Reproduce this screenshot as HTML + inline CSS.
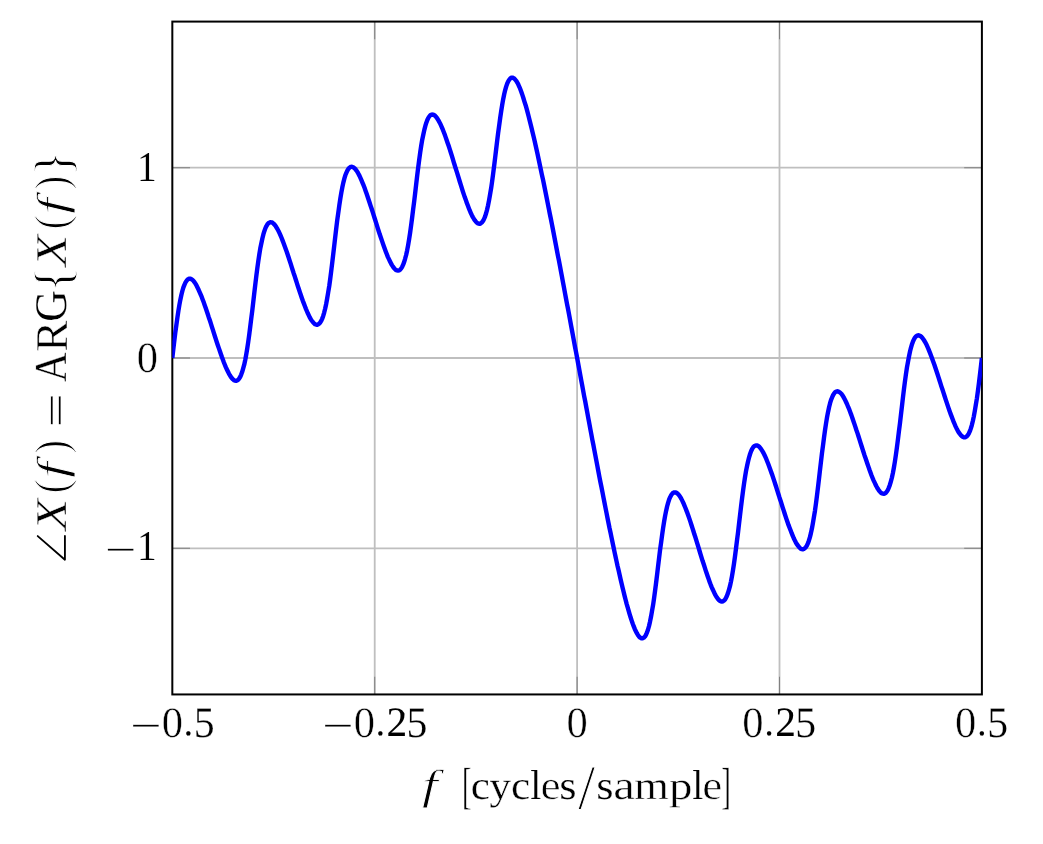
<!DOCTYPE html>
<html lang="en"><head><meta charset="utf-8"><title>Phase of X(f)</title>
<style>html,body{margin:0;padding:0;background:#fff;overflow:hidden}svg{display:block}text{font-family:"Liberation Serif",serif;fill:#000;white-space:pre;text-rendering:geometricPrecision;stroke:#fff;stroke-width:0;paint-order:fill stroke;stroke-linejoin:round}.t{will-change:transform}.i{font-style:italic}.k{stroke:#000}</style></head><body>
<svg width="1043" height="844" viewBox="0 0 1042.917 843.554" preserveAspectRatio="none">
<rect width="1043" height="844" fill="#fff"/>
<defs><clipPath id="ax"><rect x="172.312" y="21.576" width="809.505" height="672.497"/></clipPath></defs>
<path id="grid" d="M374.689 694.073V21.576 M577.065 694.073V21.576 M779.441 694.073V21.576 M172.312 548.046H981.818 M172.312 357.825H981.818 M172.312 167.604H981.818" fill="none" stroke="#bfbfbf" stroke-width="1.8"/>
<path id="ticks" d="M374.689 694.073v-17.717 M374.689 21.576v17.717 M577.065 694.073v-17.717 M577.065 21.576v17.717 M779.441 694.073v-17.717 M779.441 21.576v17.717 M172.312 548.046h17.717 M981.818 548.046h-17.717 M172.312 357.825h17.717 M981.818 357.825h-17.717 M172.312 167.604h17.717 M981.818 167.604h-17.717" fill="none" stroke="#808080" stroke-width="1"/>
<rect id="axes" x="172.312" y="21.576" width="809.505" height="672.497" fill="none" stroke="#000" stroke-width="2"/>
<g class="t">
<g id="xticklabels">
<text><tspan class="k" x="130.39" y="736.46" font-size="34.08" textLength="30.7" lengthAdjust="spacingAndGlyphs" stroke-width="0.08">−</tspan><tspan x="161.67" y="736.29" font-size="43.17" textLength="21.28" lengthAdjust="spacingAndGlyphs" stroke-width="0.46">0</tspan><tspan class="k" x="183.84" y="735" font-size="37.02" textLength="9.25" lengthAdjust="spacingAndGlyphs" stroke-width="0.08">.</tspan><tspan x="193.74" y="736.15" font-size="43.43" textLength="20.91" lengthAdjust="spacingAndGlyphs" stroke-width="0.19">5</tspan></text>
<text><tspan class="k" x="322.39" y="736.46" font-size="34.08" textLength="30.7" lengthAdjust="spacingAndGlyphs" stroke-width="0.08">−</tspan><tspan x="353.67" y="736.29" font-size="43.17" textLength="21.28" lengthAdjust="spacingAndGlyphs" stroke-width="0.46">0</tspan><tspan class="k" x="375.83" y="735" font-size="37.02" textLength="9.25" lengthAdjust="spacingAndGlyphs" stroke-width="0.08">.</tspan><tspan class="k" x="386.49" y="735.52" font-size="41.81" textLength="20.68" lengthAdjust="spacingAndGlyphs" stroke-width="0.08">2</tspan><tspan x="406.49" y="736.15" font-size="43.43" textLength="20.91" lengthAdjust="spacingAndGlyphs" stroke-width="0.19">5</tspan></text>
<text><tspan x="566.42" y="736.29" font-size="43.17" textLength="21.28" lengthAdjust="spacingAndGlyphs" stroke-width="0.46">0</tspan></text>
<text><tspan x="742.27" y="736.29" font-size="43.17" textLength="21.28" lengthAdjust="spacingAndGlyphs" stroke-width="0.46">0</tspan><tspan class="k" x="764.43" y="735" font-size="37.02" textLength="9.25" lengthAdjust="spacingAndGlyphs" stroke-width="0.08">.</tspan><tspan class="k" x="775.09" y="735.52" font-size="41.81" textLength="20.68" lengthAdjust="spacingAndGlyphs" stroke-width="0.08">2</tspan><tspan x="795.1" y="736.15" font-size="43.43" textLength="20.91" lengthAdjust="spacingAndGlyphs" stroke-width="0.19">5</tspan></text>
<text><tspan x="955.02" y="736.29" font-size="43.17" textLength="21.28" lengthAdjust="spacingAndGlyphs" stroke-width="0.46">0</tspan><tspan class="k" x="977.18" y="735" font-size="37.02" textLength="9.25" lengthAdjust="spacingAndGlyphs" stroke-width="0.08">.</tspan><tspan x="987.09" y="736.15" font-size="43.43" textLength="20.91" lengthAdjust="spacingAndGlyphs" stroke-width="0.19">5</tspan></text>
</g>
<g id="yticklabels">
<text><tspan class="k" x="105.35" y="560.67" font-size="34.08" textLength="30.7" lengthAdjust="spacingAndGlyphs" stroke-width="0.08">−</tspan><tspan x="137.01" y="559.86" font-size="42.33" textLength="19.75" lengthAdjust="spacingAndGlyphs" stroke-width="0.18">1</tspan></text>
<text><tspan x="136.63" y="372" font-size="43.17" textLength="21.28" lengthAdjust="spacingAndGlyphs" stroke-width="0.46">0</tspan></text>
<text><tspan x="137.01" y="181.16" font-size="42.33" textLength="19.75" lengthAdjust="spacingAndGlyphs" stroke-width="0.18">1</tspan></text>
</g>
<polyline id="curve" clip-path="url(#ax)" points="172.3,357.8 173.3,349.1 174.3,340.6 175.3,332.4 176.4,324.6 177.4,317.3 178.4,310.6 179.4,304.6 180.4,299.3 181.4,294.6 182.4,290.6 183.4,287.2 184.5,284.5 185.5,282.3 186.5,280.7 187.5,279.5 188.5,278.8 189.5,278.5 190.5,278.6 191.5,279.1 192.6,279.9 193.6,280.9 194.6,282.2 195.6,283.8 196.6,285.5 197.6,287.5 198.6,289.6 199.6,291.9 200.6,294.3 201.7,296.8 202.7,299.5 203.7,302.2 204.7,305 205.7,307.9 206.7,310.9 207.7,313.9 208.7,317 209.8,320.1 210.8,323.2 211.8,326.4 212.8,329.5 213.8,332.7 214.8,335.8 215.8,339 216.8,342.1 217.8,345.1 218.9,348.2 219.9,351.1 220.9,354 221.9,356.9 222.9,359.6 223.9,362.3 224.9,364.8 225.9,367.2 227,369.5 228,371.6 229,373.6 230,375.3 231,376.9 232,378.2 233,379.2 234,380 235,380.4 236.1,380.6 237.1,380.3 238.1,379.6 239.1,378.4 240.1,376.8 241.1,374.6 242.1,371.9 243.1,368.5 244.2,364.5 245.2,359.8 246.2,354.5 247.2,348.5 248.2,341.8 249.2,334.5 250.2,326.7 251.2,318.5 252.3,310 253.3,301.3 254.3,292.6 255.3,284.1 256.3,275.9 257.3,268.1 258.3,260.8 259.3,254.2 260.3,248.1 261.4,242.8 262.4,238.1 263.4,234.1 264.4,230.8 265.4,228 266.4,225.9 267.4,224.2 268.4,223.1 269.5,222.4 270.5,222.1 271.5,222.2 272.5,222.7 273.5,223.5 274.5,224.5 275.5,225.8 276.5,227.4 277.5,229.1 278.6,231.1 279.6,233.2 280.6,235.5 281.6,237.9 282.6,240.5 283.6,243.1 284.6,245.9 285.6,248.7 286.7,251.6 287.7,254.6 288.7,257.6 289.7,260.7 290.7,263.8 291.7,267 292.7,270.1 293.7,273.3 294.8,276.4 295.8,279.6 296.8,282.7 297.8,285.9 298.8,288.9 299.8,292 300.8,294.9 301.8,297.9 302.8,300.7 303.9,303.5 304.9,306.1 305.9,308.7 306.9,311.1 307.9,313.4 308.9,315.5 309.9,317.5 310.9,319.3 312,320.8 313,322.1 314,323.2 315,324 316,324.4 317,324.6 318,324.3 319,323.6 320,322.5 321.1,320.9 322.1,318.7 323.1,316 324.1,312.6 325.1,308.6 326.1,304 327.1,298.6 328.1,292.6 329.2,286 330.2,278.7 331.2,270.9 332.2,262.7 333.2,254.2 334.2,245.6 335.2,236.9 336.2,228.4 337.2,220.2 338.3,212.4 339.3,205.2 340.3,198.5 341.3,192.5 342.3,187.2 343.3,182.5 344.3,178.6 345.3,175.2 346.4,172.5 347.4,170.4 348.4,168.7 349.4,167.6 350.4,166.9 351.4,166.7 352.4,166.8 353.4,167.3 354.5,168.1 355.5,169.2 356.5,170.5 357.5,172.1 358.5,173.9 359.5,175.8 360.5,178 361.5,180.3 362.5,182.7 363.6,185.3 364.6,188 365.6,190.8 366.6,193.6 367.6,196.6 368.6,199.6 369.6,202.6 370.6,205.7 371.7,208.9 372.7,212.1 373.7,215.2 374.7,218.4 375.7,221.6 376.7,224.8 377.7,228 378.7,231.1 379.7,234.2 380.8,237.3 381.8,240.3 382.8,243.3 383.8,246.1 384.8,248.9 385.8,251.6 386.8,254.2 387.8,256.7 388.9,259 389.9,261.1 390.9,263.1 391.9,265 392.9,266.5 393.9,267.9 394.9,269 395.9,269.8 397,270.3 398,270.5 399,270.3 400,269.6 401,268.5 402,267 403,264.8 404,262.2 405,258.9 406.1,254.9 407.1,250.3 408.1,245 409.1,239.1 410.1,232.5 411.1,225.2 412.1,217.5 413.1,209.4 414.2,200.9 415.2,192.3 416.2,183.7 417.2,175.2 418.2,167.1 419.2,159.4 420.2,152.2 421.2,145.6 422.2,139.6 423.3,134.4 424.3,129.8 425.3,125.9 426.3,122.6 427.3,119.9 428.3,117.8 429.3,116.3 430.3,115.2 431.4,114.6 432.4,114.5 433.4,114.7 434.4,115.2 435.4,116.1 436.4,117.2 437.4,118.7 438.4,120.3 439.4,122.2 440.5,124.2 441.5,126.5 442.5,128.9 443.5,131.4 444.5,134 445.5,136.8 446.5,139.7 447.5,142.6 448.6,145.7 449.6,148.8 450.6,151.9 451.6,155.1 452.6,158.4 453.6,161.7 454.6,164.9 455.6,168.2 456.7,171.5 457.7,174.8 458.7,178.1 459.7,181.4 460.7,184.6 461.7,187.8 462.7,191 463.7,194 464.7,197 465.8,200 466.8,202.8 467.8,205.5 468.8,208.1 469.8,210.6 470.8,212.9 471.8,215.1 472.8,217 473.9,218.8 474.9,220.3 475.9,221.6 476.9,222.6 477.9,223.3 478.9,223.6 479.9,223.6 480.9,223.1 481.9,222.2 483,220.8 484,218.9 485,216.5 486,213.4 487,209.7 488,205.3 489,200.2 490,194.5 491.1,188.1 492.1,181.2 493.1,173.7 494.1,165.8 495.1,157.7 496.1,149.3 497.1,141 498.1,132.9 499.2,125 500.2,117.6 501.2,110.8 502.2,104.5 503.2,98.9 504.2,94 505.2,89.8 506.2,86.3 507.2,83.4 508.3,81.1 509.3,79.5 510.3,78.3 511.3,77.7 512.3,77.6 513.3,77.9 514.3,78.6 515.3,79.7 516.4,81.1 517.4,82.8 518.4,84.8 519.4,87 520.4,89.5 521.4,92.2 522.4,95.1 523.4,98.2 524.4,101.5 525.5,104.9 526.5,108.4 527.5,112.1 528.5,115.9 529.5,119.9 530.5,123.9 531.5,128 532.5,132.3 533.6,136.6 534.6,140.9 535.6,145.4 536.6,149.9 537.6,154.5 538.6,159.2 539.6,163.9 540.6,168.7 541.6,173.5 542.7,178.3 543.7,183.2 544.7,188.2 545.7,193.2 546.7,198.2 547.7,203.2 548.7,208.3 549.7,213.4 550.8,218.6 551.8,223.7 552.8,228.9 553.8,234.1 554.8,239.4 555.8,244.6 556.8,249.9 557.8,255.2 558.9,260.5 559.9,265.8 560.9,271.2 561.9,276.5 562.9,281.9 563.9,287.3 564.9,292.7 565.9,298.1 566.9,303.5 568,308.9 569,314.3 570,319.7 571,325.2 572,330.6 573,336 574,341.5 575,346.9 576.1,352.4 577.1,357.8 578.1,363.3 579.1,368.7 580.1,374.2 581.1,379.6 582.1,385 583.1,390.5 584.1,395.9 585.2,401.3 586.2,406.8 587.2,412.2 588.2,417.6 589.2,423 590.2,428.4 591.2,433.7 592.2,439.1 593.3,444.5 594.3,449.8 595.3,455.1 596.3,460.4 597.3,465.7 598.3,471 599.3,476.3 600.3,481.5 601.4,486.7 602.4,491.9 603.4,497.1 604.4,502.2 605.4,507.3 606.4,512.4 607.4,517.5 608.4,522.5 609.4,527.5 610.5,532.4 611.5,537.3 612.5,542.2 613.5,547 614.5,551.8 615.5,556.5 616.5,561.1 617.5,565.7 618.6,570.2 619.6,574.7 620.6,579.1 621.6,583.4 622.6,587.6 623.6,591.8 624.6,595.8 625.6,599.7 626.6,603.5 627.7,607.2 628.7,610.8 629.7,614.2 630.7,617.4 631.7,620.5 632.7,623.4 633.7,626.1 634.7,628.6 635.8,630.9 636.8,632.9 637.8,634.6 638.8,636 639.8,637 640.8,637.7 641.8,638 642.8,637.9 643.8,637.3 644.9,636.2 645.9,634.5 646.9,632.3 647.9,629.4 648.9,625.9 649.9,621.6 650.9,616.7 651.9,611.1 653,604.9 654,598 655,590.6 656,582.8 657,574.6 658,566.3 659,558 660,549.8 661.1,541.9 662.1,534.5 663.1,527.5 664.1,521.1 665.1,515.4 666.1,510.4 667.1,506 668.1,502.3 669.1,499.2 670.2,496.7 671.2,494.8 672.2,493.4 673.2,492.5 674.2,492.1 675.2,492.1 676.2,492.4 677.2,493.1 678.3,494.1 679.3,495.3 680.3,496.9 681.3,498.6 682.3,500.6 683.3,502.7 684.3,505.1 685.3,507.5 686.3,510.1 687.4,512.9 688.4,515.7 689.4,518.6 690.4,521.6 691.4,524.7 692.4,527.8 693.4,531 694.4,534.3 695.5,537.5 696.5,540.8 697.5,544.1 698.5,547.4 699.5,550.7 700.5,554 701.5,557.3 702.5,560.5 703.6,563.7 704.6,566.9 705.6,570 706.6,573 707.6,576 708.6,578.8 709.6,581.6 710.6,584.3 711.6,586.8 712.7,589.2 713.7,591.4 714.7,593.5 715.7,595.3 716.7,597 717.7,598.4 718.7,599.6 719.7,600.4 720.8,601 721.8,601.2 722.8,601 723.8,600.4 724.8,599.4 725.8,597.8 726.8,595.7 727.8,593.1 728.8,589.8 729.9,585.9 730.9,581.3 731.9,576 732.9,570.1 733.9,563.5 734.9,556.3 735.9,548.6 736.9,540.4 738,532 739,523.3 740,514.7 741,506.3 742,498.1 743,490.4 744,483.2 745,476.6 746,470.6 747.1,465.3 748.1,460.7 749.1,456.8 750.1,453.5 751.1,450.8 752.1,448.7 753.1,447.1 754.1,446 755.2,445.4 756.2,445.2 757.2,445.3 758.2,445.8 759.2,446.6 760.2,447.7 761.2,449.1 762.2,450.7 763.3,452.5 764.3,454.5 765.3,456.7 766.3,459 767.3,461.5 768.3,464 769.3,466.7 770.3,469.5 771.3,472.4 772.4,475.3 773.4,478.4 774.4,481.4 775.4,484.5 776.4,487.7 777.4,490.8 778.4,494 779.4,497.2 780.5,500.4 781.5,503.6 782.5,506.8 783.5,509.9 784.5,513 785.5,516.1 786.5,519.1 787.5,522 788.5,524.9 789.6,527.7 790.6,530.3 791.6,532.9 792.6,535.3 793.6,537.7 794.6,539.8 795.6,541.8 796.6,543.6 797.7,545.1 798.7,546.5 799.7,547.6 800.7,548.4 801.7,548.8 802.7,549 803.7,548.7 804.7,548 805.8,546.9 806.8,545.3 807.8,543.1 808.8,540.4 809.8,537.1 810.8,533.1 811.8,528.5 812.8,523.1 813.8,517.1 814.9,510.5 815.9,503.2 816.9,495.4 817.9,487.2 818.9,478.7 819.9,470.1 820.9,461.4 821.9,452.9 823,444.7 824,436.9 825,429.7 826,423 827,417 828,411.7 829,407 830,403 831,399.7 832.1,397 833.1,394.8 834.1,393.2 835.1,392 836.1,391.4 837.1,391.1 838.1,391.2 839.1,391.7 840.2,392.5 841.2,393.5 842.2,394.8 843.2,396.4 844.2,398.2 845.2,400.1 846.2,402.3 847.2,404.5 848.2,407 849.3,409.5 850.3,412.2 851.3,414.9 852.3,417.8 853.3,420.7 854.3,423.7 855.3,426.7 856.3,429.8 857.4,432.9 858.4,436 859.4,439.2 860.4,442.4 861.4,445.5 862.4,448.7 863.4,451.8 864.4,454.9 865.5,458 866.5,461 867.5,464 868.5,466.9 869.5,469.8 870.5,472.5 871.5,475.2 872.5,477.7 873.5,480.1 874.6,482.4 875.6,484.6 876.6,486.5 877.6,488.3 878.6,489.8 879.6,491.1 880.6,492.2 881.6,493 882.7,493.4 883.7,493.5 884.7,493.3 885.7,492.6 886.7,491.4 887.7,489.8 888.7,487.6 889.7,484.9 890.7,481.5 891.8,477.5 892.8,472.9 893.8,467.5 894.8,461.5 895.8,454.8 896.8,447.5 897.8,439.8 898.8,431.5 899.9,423 900.9,414.3 901.9,405.7 902.9,397.1 903.9,388.9 904.9,381.1 905.9,373.8 906.9,367.2 908,361.1 909,355.8 910,351.1 911,347.1 912,343.8 913,341 914,338.9 915,337.2 916,336.1 917.1,335.4 918.1,335.1 919.1,335.2 920.1,335.7 921.1,336.4 922.1,337.5 923.1,338.8 924.1,340.3 925.2,342.1 926.2,344 927.2,346.2 928.2,348.4 929.2,350.9 930.2,353.4 931.2,356 932.2,358.8 933.2,361.6 934.3,364.5 935.3,367.5 936.3,370.5 937.3,373.6 938.3,376.7 939.3,379.8 940.3,383 941.3,386.1 942.4,389.3 943.4,392.4 944.4,395.5 945.4,398.7 946.4,401.7 947.4,404.7 948.4,407.7 949.4,410.6 950.4,413.4 951.5,416.2 952.5,418.8 953.5,421.4 954.5,423.8 955.5,426.1 956.5,428.2 957.5,430.1 958.5,431.9 959.6,433.4 960.6,434.7 961.6,435.8 962.6,436.6 963.6,437 964.6,437.1 965.6,436.8 966.6,436.1 967.7,435 968.7,433.3 969.7,431.2 970.7,428.4 971.7,425.1 972.7,421.1 973.7,416.4 974.7,411 975.7,405 976.8,398.3 977.8,391.1 978.8,383.3 979.8,375 980.8,366.5 981.8,357.8" fill="none" stroke="#00f" stroke-width="4.4" stroke-linejoin="round"/>
<text id="xlabel"><tspan class="i" x="422.03" y="798.57" font-size="42.08" textLength="15.68" lengthAdjust="spacingAndGlyphs" stroke-width="0.77">f</tspan><tspan> </tspan><tspan x="462.02" y="802.48" font-size="50.86" textLength="9.35" lengthAdjust="spacingAndGlyphs" stroke-width="0.49">[</tspan><tspan x="470.66" y="798.85" font-size="40.34" textLength="19.1" lengthAdjust="spacingAndGlyphs" stroke-width="0.26">c</tspan><tspan x="489.54" y="798.74" font-size="39.67" textLength="21.39" lengthAdjust="spacingAndGlyphs" stroke-width="0.31">y</tspan><tspan x="511.01" y="798.85" font-size="40.34" textLength="19.1" lengthAdjust="spacingAndGlyphs" stroke-width="0.26">c</tspan><tspan x="530.29" y="798.73" font-size="41.82" textLength="11.02" lengthAdjust="spacingAndGlyphs" stroke-width="0.15">l</tspan><tspan x="540.43" y="799.02" font-size="41.07" textLength="20.09" lengthAdjust="spacingAndGlyphs" stroke-width="0.61">e</tspan><tspan x="559.2" y="798.84" font-size="40.29" textLength="17.33" lengthAdjust="spacingAndGlyphs" stroke-width="0.24">s</tspan><tspan x="577.98" y="808.93" font-size="63.73" textLength="17.17" lengthAdjust="spacingAndGlyphs" stroke-width="1.03">/</tspan><tspan x="596.32" y="798.84" font-size="40.29" textLength="17.33" lengthAdjust="spacingAndGlyphs" stroke-width="0.24">s</tspan><tspan x="613.1" y="798.93" font-size="40.88" textLength="21.63" lengthAdjust="spacingAndGlyphs" stroke-width="0.44">a</tspan><tspan x="634.19" y="798.86" font-size="39.96" textLength="34.56" lengthAdjust="spacingAndGlyphs" stroke-width="0.4">m</tspan><tspan x="668.84" y="798.53" font-size="39.24" textLength="23.5" lengthAdjust="spacingAndGlyphs" stroke-width="0.39">p</tspan><tspan x="692.18" y="798.73" font-size="41.82" textLength="11.02" lengthAdjust="spacingAndGlyphs" stroke-width="0.15">l</tspan><tspan x="702.31" y="799.02" font-size="41.07" textLength="20.09" lengthAdjust="spacingAndGlyphs" stroke-width="0.61">e</tspan><tspan x="721.35" y="802.46" font-size="50.79" textLength="9.26" lengthAdjust="spacingAndGlyphs" stroke-width="0.43">]</tspan></text>
<g id="ylabel">
<path d="M37.73 535.82L64.91 559.43L64.91 535.74" fill="none" stroke="#000" stroke-width="1.85" stroke-linecap="round" stroke-linejoin="round"><title>∠</title></path>
<text transform="rotate(-90)"><tspan class="i" x="-530.03" y="65.99" font-size="44.07" textLength="31.37" lengthAdjust="spacingAndGlyphs" stroke-width="0.44">X</tspan><tspan x="-493.26" y="66.67" font-size="47.09" textLength="14.05" lengthAdjust="spacingAndGlyphs" stroke-width="1.09">(</tspan><tspan class="i" x="-477.62" y="65.67" font-size="42.05" textLength="15.66" lengthAdjust="spacingAndGlyphs" stroke-width="0.74">f</tspan><tspan x="-453.65" y="66.69" font-size="47.18" textLength="14.16" lengthAdjust="spacingAndGlyphs" stroke-width="1.18">)</tspan><tspan> </tspan><tspan x="-427.08" y="68.52" font-size="39.68" textLength="33.78" lengthAdjust="spacingAndGlyphs" stroke-width="0.18">=</tspan><tspan> </tspan><tspan x="-381.81" y="65.95" font-size="45.68" textLength="29.62" lengthAdjust="spacingAndGlyphs" stroke-width="0.37">A</tspan><tspan x="-351.57" y="66.94" font-size="45.6" textLength="31" lengthAdjust="spacingAndGlyphs" stroke-width="0.53">R</tspan><tspan x="-321.5" y="66.29" font-size="45.18" textLength="31.48" lengthAdjust="spacingAndGlyphs" stroke-width="0.12">G</tspan><tspan x="-291.78" y="69.77" font-size="51.51" textLength="25.52" lengthAdjust="spacingAndGlyphs" stroke-width="1.03">{</tspan><tspan class="i" x="-266.09" y="65.99" font-size="44.07" textLength="31.37" lengthAdjust="spacingAndGlyphs" stroke-width="0.44">X</tspan><tspan x="-229.33" y="66.67" font-size="47.09" textLength="14.05" lengthAdjust="spacingAndGlyphs" stroke-width="1.09">(</tspan><tspan class="i" x="-213.68" y="65.67" font-size="42.05" textLength="15.66" lengthAdjust="spacingAndGlyphs" stroke-width="0.74">f</tspan><tspan x="-189.71" y="66.69" font-size="47.18" textLength="14.16" lengthAdjust="spacingAndGlyphs" stroke-width="1.18">)</tspan><tspan x="-176.26" y="69.75" font-size="51.44" textLength="25.44" lengthAdjust="spacingAndGlyphs" stroke-width="0.98">}</tspan></text>
</g>
</g>
</svg></body></html>
